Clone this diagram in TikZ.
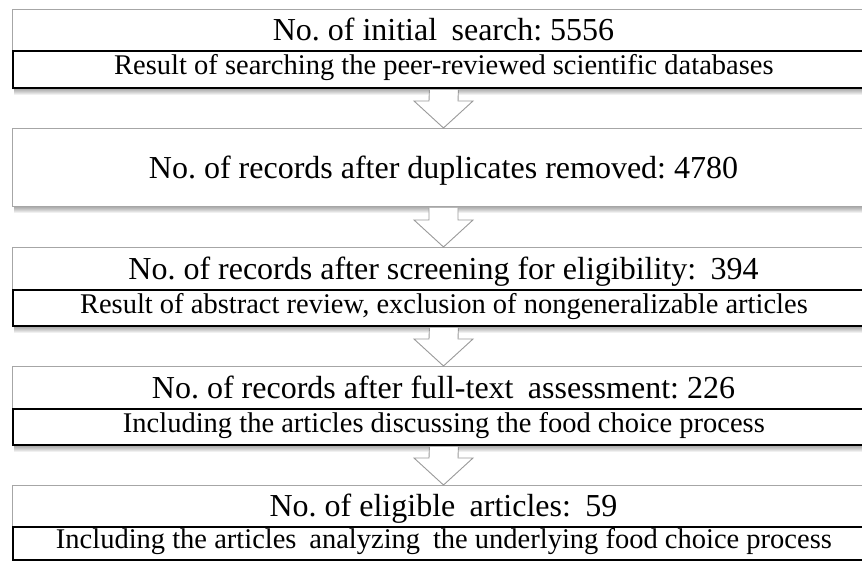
\documentclass[tikz,border=0pt]{standalone}
\usepackage{fontspec}
\setmainfont{Liberation Serif}
\usetikzlibrary{calc}
\definecolor{boxgray}{HTML}{A6A6A6}
\definecolor{arrgray}{HTML}{9A9A9A}
\newcommand{\dsp}{\hspace{0.45em}}
\frenchspacing
\tikzset{
  graybox/.style={draw=boxgray, line width=1pt, fill=white, rectangle, inner sep=0pt,
    minimum width=862pt, anchor=north west},
  titlebox/.style={graybox, minimum height=41pt, text height=21.2pt, text depth=0pt,
    font=\fontsize{32}{32}\selectfont},
  bigbox/.style={graybox, minimum height=78pt, text height=21.2pt, text depth=0pt,
    font=\fontsize{32}{32}\selectfont},
  subbox/.style={draw=black, line width=1.8pt, fill=white, rectangle, inner sep=0pt,
    minimum width=862pt, anchor=north west, text height=18pt, text depth=7pt,
    font=\fontsize{28.5}{28.5}\selectfont},
  barrow/.style={draw=arrgray, line width=0.9pt, fill=white, line join=miter},
  shadowlayer/.style={fill=black, opacity=0.06}
}
\begin{document}
\begin{tikzpicture}[x=1pt, y=-1pt]
\clip (0,0) rectangle (862,561);
\fill[white] (0,0) rectangle (862,561);

% boxes
\node[titlebox] (t1) at (12,9) {No. of initial\dsp search: 5556};
\node[subbox, minimum height=37pt] (s1) at (12,50) {Result of searching the peer-reviewed scientific databases};

\node[bigbox] (b2) at (12,128) {No. of records after duplicates removed: 4780};

\node[titlebox, minimum height=42pt] (t3) at (12,247) {No. of records after screening for eligibility:\dsp 394};
\node[subbox, minimum height=36pt] (s3) at (12,289) {Result of abstract review, exclusion of nongeneralizable articles};

\node[titlebox, minimum height=42pt] (t4) at (12,366) {No. of records after full-text\dsp assessment: 226};
\node[subbox, minimum height=36pt] (s4) at (12,408) {Including the articles discussing the food choice process};

\node[titlebox, minimum height=41pt] (t5) at (12,485) {No. of eligible\dsp articles:\dsp 59};
\node[subbox, minimum height=33pt] (s5) at (12,526) {Including the articles\dsp analyzing\dsp the underlying food choice process};

% shadows
\foreach \n in {s1,b2,s3,s4} {
  \foreach \k in {1,...,6} {
    \fill[shadowlayer] ($(\n.south west)+(2,0)$) rectangle ($(\n.south east)+(0,\k)$);
  }
}

% block arrows
\foreach \a/\b in {s1/b2, b2/t3, s3/t4, s4/t5} {
  \filldraw[barrow]
    ($(\a.south)+(-14.5,1)$) -- ($(\b.north)+(-14.5,-27)$) -- ($(\b.north)+(-29.5,-27)$)
    -- (\b.north) -- ($(\b.north)+(29.5,-27)$) -- ($(\b.north)+(14.5,-27)$)
    -- ($(\a.south)+(14.5,1)$);
}
\end{tikzpicture}
\end{document}
